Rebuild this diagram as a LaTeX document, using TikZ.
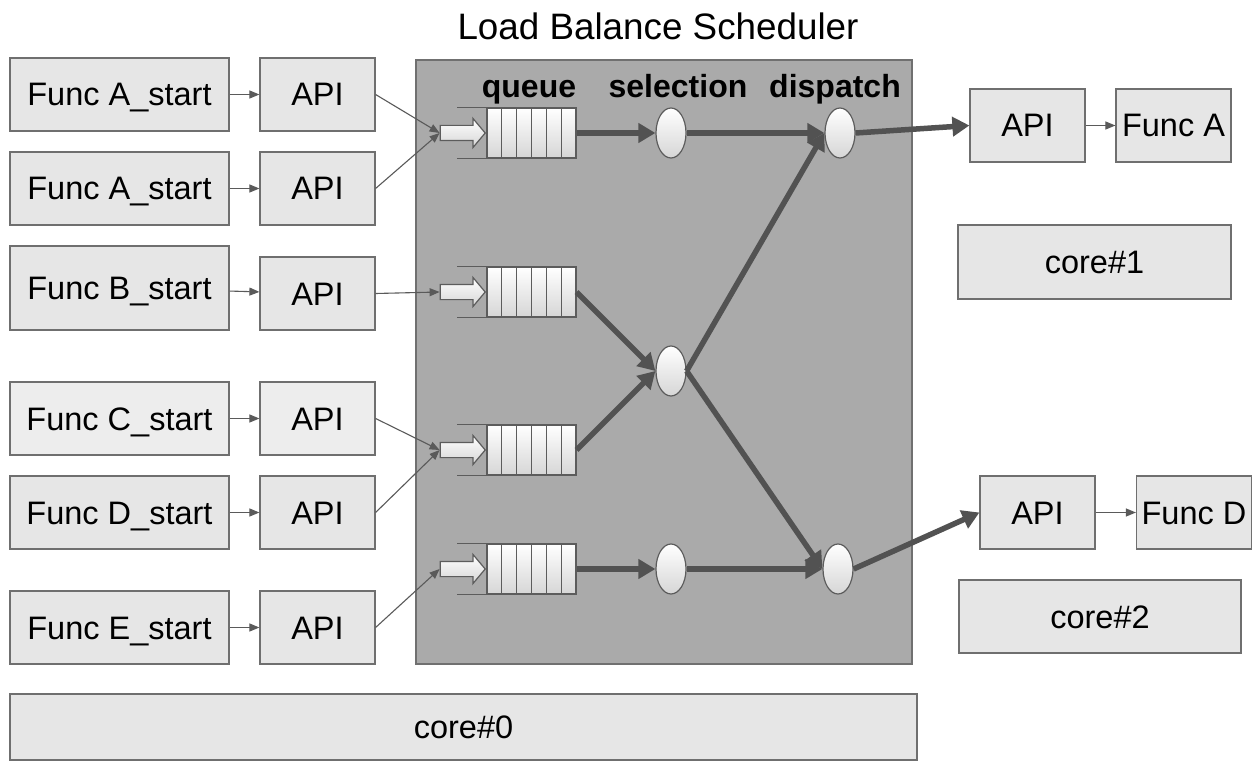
\documentclass[tikz,border=0pt]{standalone}
\usepackage{fontspec}
\setmainfont{Liberation Sans}
\usetikzlibrary{arrows.meta,shapes.geometric,shapes.arrows,calc}

\definecolor{boxfill}{HTML}{E6E6E6}
\definecolor{boxfilllight}{HTML}{EDEDED}
\definecolor{boxline}{HTML}{6F6F6F}
\definecolor{schedfill}{HTML}{AAAAAA}
\definecolor{schedline}{HTML}{707070}
\definecolor{darkarrow}{HTML}{525252}
\definecolor{feedline}{HTML}{5A5A5A}
\definecolor{qline}{HTML}{5C5C5C}
\definecolor{qshade}{HTML}{D6D6D6}

\tikzset{
  box/.style={draw=boxline, fill=boxfill, line width=1.2pt, inner sep=0pt,
    font=\fontsize{32.5}{36}\selectfont, text height=23pt, text depth=0pt},
  sched/.style={draw=schedline, fill=schedfill, line width=1.2pt, inner sep=0pt},
  hdr/.style={font=\fontsize{32}{36}\selectfont\bfseries, anchor=base, inner sep=0pt},
  feed/.style={draw=feedline, line width=1.1pt, -{Triangle[length=10pt,width=8pt]}},
  flow/.style={draw=darkarrow, line width=5.5pt, -{Triangle[length=17pt,width=19pt]}},
  queuebox/.style={draw=qline, line width=1.2pt, top color=white, bottom color=qshade,
    minimum width=89pt, minimum height=50pt, inner sep=0pt},
  inarrow/.style={single arrow, draw=qline, line width=1.2pt, top color=white,
    bottom color=qshade, minimum height=45pt, inner xsep=0pt, inner ysep=7pt,
    single arrow head extend=7pt, single arrow tip angle=100},
  selnode/.style={ellipse, draw=qline, line width=1.2pt, top color=white,
    bottom color=qshade, minimum width=30pt, minimum height=50pt, inner sep=0pt},
}

% a FIFO queue: shaded cells, entry guides and an input arrow
\newcommand\queueat[2]{%
  \node[queuebox] (#1) at (531.5,#2) {};
  \foreach \k in {1,...,5}{
    \draw[qline, line width=1pt] ($(#1.north west)!\k/6!(#1.north east)$) --
      ($(#1.south west)!\k/6!(#1.south east)$);
  }
  \draw[qline, line width=1pt] (#1.north west) -- ++(-29,0)
    (#1.south west) -- ++(-29,0);
  \node[inarrow] (#1in) at (459.5,#2) {};
}

\begin{document}
\begin{tikzpicture}[x=1pt,y=-1pt]
  \useasboundingbox (0,0) rectangle (1253,762);
  \fill[white] (0,0) rectangle (1253,762);

  % title
  \node[anchor=base, inner sep=0pt, font=\fontsize{36.8}{40}\selectfont] (title)
    at (658,40) {Load Balance Scheduler};

  % scheduler and core#0
  \node[sched, minimum width=496pt, minimum height=604pt] (sched) at (664,362) {};
  \node[box, minimum width=907pt, minimum height=66pt] (core0) at (463.5,727) {core\#0};

  % headers
  \node[hdr] (hq) at (529,98) {queue};
  \node[hdr] (hs) at (678,98) {selection};
  \node[hdr] (hd) at (835,98) {dispatch};

  % callers on core#0
  \node[box, minimum width=219pt, minimum height=73pt] (fA1) at (119.5,94.5) {Func A\_start};
  \node[box, minimum width=115pt, minimum height=73pt] (apiA1) at (317.5,94.5) {API};
  \node[box, minimum width=219pt, minimum height=73pt] (fA2) at (119.5,188.5) {Func A\_start};
  \node[box, minimum width=115pt, minimum height=73pt] (apiA2) at (317.5,188.5) {API};
  \node[box, minimum width=219pt, minimum height=84pt] (fB) at (119.5,288) {Func B\_start};
  \node[box, minimum width=115pt, minimum height=73pt] (apiB) at (317.5,293.5) {API};
  \node[box, fill=boxfilllight, minimum width=219pt, minimum height=73pt] (fC) at (119.5,418.5) {Func C\_start};
  \node[box, fill=boxfilllight, minimum width=115pt, minimum height=73pt] (apiC) at (317.5,418.5) {API};
  \node[box, minimum width=219pt, minimum height=73pt] (fD) at (119.5,512.5) {Func D\_start};
  \node[box, minimum width=115pt, minimum height=73pt] (apiD) at (317.5,512.5) {API};
  \node[box, minimum width=219pt, minimum height=73pt] (fE) at (119.5,627.5) {Func E\_start};
  \node[box, minimum width=115pt, minimum height=73pt] (apiE) at (317.5,627.5) {API};

  % targets on core#1 and core#2
  \node[box, minimum width=115pt, minimum height=73pt] (apiR1) at (1027.5,125.5) {API};
  \node[box, minimum width=115pt, minimum height=73pt] (fnA) at (1173.5,125.5) {Func A};
  \node[box, minimum width=273pt, minimum height=74pt] (core1) at (1094.5,262) {core\#1};
  \node[box, minimum width=115pt, minimum height=73pt] (apiR2) at (1037.5,512.5) {API};
  \node[box, minimum width=115pt, minimum height=73pt] (fnD) at (1194,512.5) {Func D};
  \node[box, minimum width=282pt, minimum height=73pt] (core2) at (1100,616.5) {core\#2};

  % queues
  \queueat{qA}{133}
  \queueat{qB}{292}
  \queueat{qC}{450}
  \queueat{qE}{569}

  % selection and dispatch stages
  \node[selnode] (s1) at (671,133) {};
  \node[selnode] (s2) at (671,371) {};
  \node[selnode] (s3) at (671,569) {};
  \node[selnode] (d1) at (840,133) {};
  \node[selnode] (d2) at (838,569) {};

  % calls into the API layer
  \draw[feed] (fA1) -- (apiA1);
  \draw[feed] (fA2) -- (apiA2);
  \draw[feed] (fB) -- (apiB);
  \draw[feed] (fC) -- (apiC);
  \draw[feed] (fD) -- (apiD);
  \draw[feed] (fE) -- (apiE);

  % enqueue
  \draw[feed] (apiA1.east) -- (qAin.west);
  \draw[feed] (apiA2.east) -- (qAin.west);
  \draw[feed] (apiB.east) -- (qBin.west);
  \draw[feed] (apiC.east) -- (qCin.west);
  \draw[feed] (apiD.east) -- (qCin.west);
  \draw[feed] (apiE.east) -- (qEin.west);

  % scheduling flow
  \draw[flow] (qA.east) -- (s1.west);
  \draw[flow] (s1.east) -- (d1.west);
  \draw[flow] (qB.east) -- (s2.west);
  \draw[flow] (qC.east) -- (s2.west);
  \draw[flow] (s2.east) -- (d1.west);
  \draw[flow] (s2.east) -- (d2.west);
  \draw[flow] (qE.east) -- (s3.west);
  \draw[flow] (s3.east) -- (d2.west);
  \draw[flow] (d1.east) -- (apiR1.west);
  \draw[flow] (d2.east) -- (apiR2.west);

  % calls on the target cores
  \draw[feed] (apiR1) -- (fnA);
  \draw[feed] (apiR2) -- (fnD);
\end{tikzpicture}
\end{document}
